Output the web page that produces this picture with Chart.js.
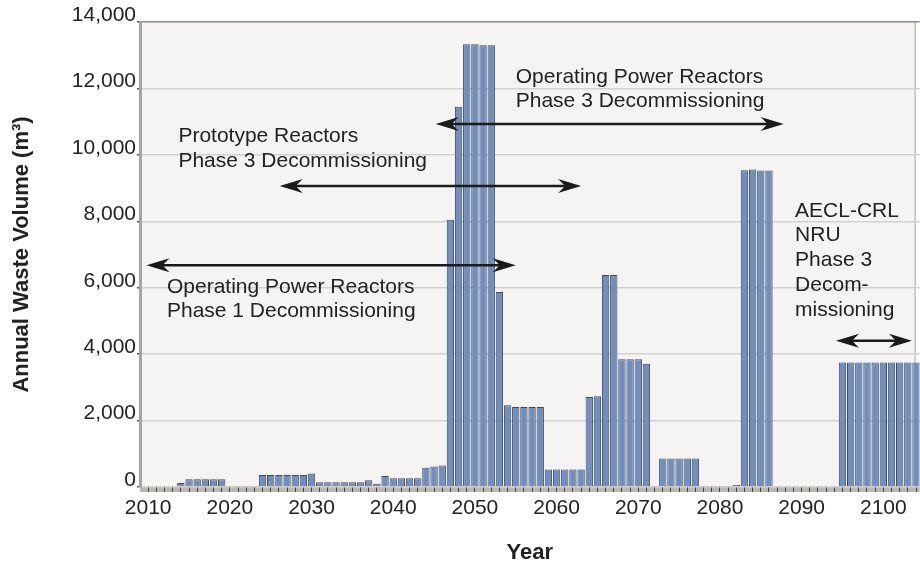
<!DOCTYPE html>
<html>
<head>
<meta charset="utf-8">
<script src="https://cdn.jsdelivr.net/npm/chart.js@4.4.1/dist/chart.umd.min.js"></script>
<style>
  html, body { margin: 0; background: #fff; }
</style>
</head>
<body>
<canvas id="wasteChart" width="920" height="566"></canvas>
<script>
// Annual waste volume per year (m3)
const years = [
    2010, 2011, 2012, 2013, 2014, 2015, 2016, 2017, 2018, 2019,
    2020, 2021, 2022, 2023, 2024, 2025, 2026, 2027, 2028, 2029,
    2030, 2031, 2032, 2033, 2034, 2035, 2036, 2037, 2038, 2039,
    2040, 2041, 2042, 2043, 2044, 2045, 2046, 2047, 2048, 2049,
    2050, 2051, 2052, 2053, 2054, 2055, 2056, 2057, 2058, 2059,
    2060, 2061, 2062, 2063, 2064, 2065, 2066, 2067, 2068, 2069,
    2070, 2071, 2072, 2073, 2074, 2075, 2076, 2077, 2078, 2079,
    2080, 2081, 2082, 2083, 2084, 2085, 2086, 2087, 2088, 2089,
    2090, 2091, 2092, 2093, 2094, 2095, 2096, 2097, 2098, 2099,
    2100, 2101, 2102, 2103, 2104
];
const wasteVolume = [
    20, 20, 20, 20, 120, 230, 230, 230, 230, 230,
    30, 30, 30, 30, 360, 360, 360, 360, 360, 360,
    410, 140, 140, 140, 140, 140, 140, 200, 100, 330,
    260, 260, 260, 260, 580, 620, 650, 8050, 11450, 13330,
    13330, 13300, 13300, 5870, 2460, 2410, 2410, 2410, 2410, 530,
    530, 530, 530, 530, 2710, 2730, 6380, 6380, 3850, 3850,
    3850, 3710, 30, 860, 860, 860, 860, 860, 30, 30,
    30, 30, 60, 9540, 9560, 9530, 9530, 0, 0, 0,
    0, 0, 0, 0, 0, 3750, 3750, 3750, 3750, 3750,
    3750, 3750, 3750, 3750, 3750
];
const yearLabels = [2010, 2020, 2030, 2040, 2050, 2060, 2070, 2080, 2090, 2100];
const volumeTicks = [0, 2000, 4000, 6000, 8000, 10000, 12000, 14000];

// Decommissioning periods: [fromYear, toYear, volume level]
const spans = [
    [2045.2, 2087.8, 10930],
    [2026.1, 2063.0, 9060],
    [2009.8, 2055.0, 6680],
    [2094.2, 2103.5, 4400]
];
// Labels: [year, volume, lines]
const notes = [
    [2055.0, 12344, ['Operating Power Reactors', 'Phase 3 Decommissioning']],
    [2013.7, 10547, ['Prototype Reactors', 'Phase 3 Decommissioning']],
    [2012.3, 6022, ['Operating Power Reactors', 'Phase 1 Decommissioning']],
    [2089.2, 8310, ['AECL-CRL', 'NRU', 'Phase 3', 'Decom-', 'missioning']]
];

const FONT = '"Liberation Sans", Arial, Helvetica, sans-serif';

function arrowHead(ctx, x, y, dir) {
    ctx.beginPath();
    ctx.moveTo(x, y);
    ctx.lineTo(x - dir * 23, y - 7);
    ctx.lineTo(x - dir * 16, y);
    ctx.lineTo(x - dir * 23, y + 7);
    ctx.closePath();
    ctx.fill();
}

const plotDecor = {
    id: 'plotDecor',
    beforeDraw(chart) {
        const { ctx, chartArea } = chart;
        const xs = chart.scales.x;
        const right = xs.getPixelForValue(2103.9);
        ctx.save();
        ctx.fillStyle = '#f5f4f2';
        ctx.fillRect(chartArea.left, chartArea.top, right - chartArea.left, chartArea.bottom - chartArea.top);
        ctx.strokeStyle = '#c4c2bf';
        ctx.lineWidth = 1.5;
        ctx.beginPath();
        ctx.moveTo(right, chartArea.top);
        ctx.lineTo(right, chartArea.bottom);
        ctx.stroke();
        // floor strip under the bars
        ctx.fillStyle = '#bcb9b5';
        ctx.fillRect(chartArea.left, chartArea.bottom, chartArea.right - chartArea.left, 5);
        ctx.restore();
    },
    afterDatasetsDraw(chart) {
        const { ctx } = chart;
        const xs = chart.scales.x, ys = chart.scales.y;
        ctx.save();
        ctx.fillStyle = '#1b1b1b';
        ctx.strokeStyle = '#1b1b1b';
        ctx.lineWidth = 2.5;
        spans.forEach(([a, b, v]) => {
            const x1 = xs.getPixelForValue(a), x2 = xs.getPixelForValue(b), y = ys.getPixelForValue(v);
            ctx.beginPath();
            ctx.moveTo(x1 + 15, y);
            ctx.lineTo(x2 - 15, y);
            ctx.stroke();
            arrowHead(ctx, x1, y, -1);
            arrowHead(ctx, x2, y, 1);
        });
        ctx.fillStyle = '#222';
        ctx.font = '21px ' + FONT;
        ctx.textBaseline = 'middle';
        ctx.textAlign = 'left';
        notes.forEach(([yr, v, lines]) => {
            const x = xs.getPixelForValue(yr), y = ys.getPixelForValue(v);
            lines.forEach((t, i) => ctx.fillText(t, x, y + i * 24.7));
        });
        ctx.restore();
    }
};

const ctx = document.getElementById('wasteChart').getContext('2d');
const wasteChart = new Chart(ctx, {
    type: 'bar',
    data: {
        datasets: [{
            data: years.map((yr, i) => ({ x: yr, y: wasteVolume[i] })),
            backgroundColor: '#6f8fc2',
            borderColor: '#4a4a4a',
            borderWidth: 1,
            barPercentage: 0.9,
            categoryPercentage: 1
        }]
    },
    options: {
        responsive: false,
        devicePixelRatio: 1,
        animation: false,
        layout: { padding: { top: 22, right: 0, left: 0, bottom: 0 } },
        plugins: {
            legend: { display: false },
            tooltip: { enabled: false }
        },
        scales: {
            x: {
                type: 'linear',
                min: 2009,
                max: 2104.45,
                offset: false,
                afterBuildTicks: s => { s.ticks = years.map(v => ({ value: v })); },
                afterFit: s => { s.height = 79; },
                grid: { offset: false, drawOnChartArea: false, tickLength: 5, tickColor: '#444', lineWidth: 1 },
                border: { display: false },
                ticks: {
                    autoSkip: false,
                    maxRotation: 0,
                    padding: 4,
                    color: '#222',
                    font: { family: FONT, size: 21 },
                    callback: v => yearLabels.includes(v) ? String(v) : ''
                },
                title: {
                    display: true,
                    text: 'Year',
                    color: '#222',
                    font: { family: FONT, size: 22, weight: 'bold' },
                    padding: { top: 0, bottom: 0 }
                }
            },
            y: {
                min: 0,
                max: 14000,
                afterBuildTicks: s => { s.ticks = volumeTicks.map(v => ({ value: v })); },
                afterFit: s => { s.width = 140; },
                grid: {
                    color: c => c.tick && c.tick.value === 14000 ? '#8c8c8c' : '#d4d2cf',
                    lineWidth: 1.5,
                    tickLength: 3,
                    tickColor: '#555'
                },
                border: { color: '#a5a5a5', width: 3 },
                ticks: {
                    padding: 1,
                    labelOffset: -7,
                    color: '#222',
                    font: { family: FONT, size: 21 },
                    callback: v => v.toLocaleString('en-US')
                },
                title: {
                    display: true,
                    text: 'Annual Waste Volume (m³)',
                    color: '#222',
                    font: { family: FONT, size: 22, weight: 'bold' },
                    padding: { top: 9, bottom: 0 }
                }
            }
        }
    },
    plugins: [plotDecor]
});
</script>
</body>
</html>
